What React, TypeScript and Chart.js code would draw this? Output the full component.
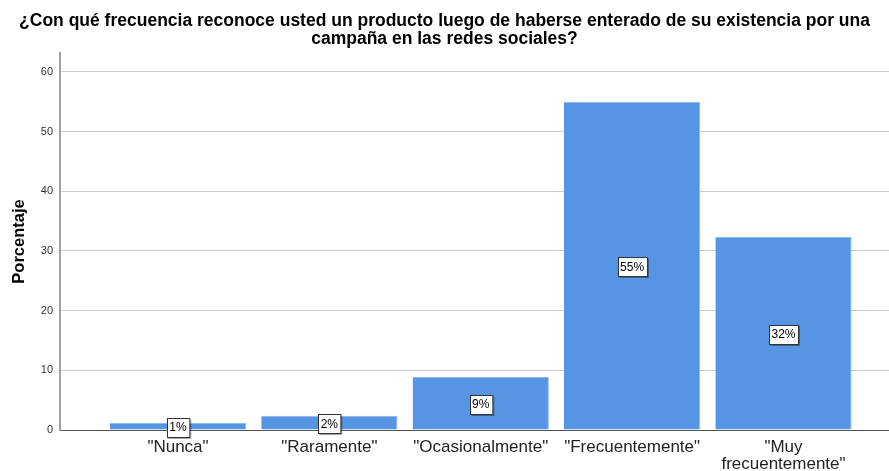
import React, { useEffect, useRef } from "react";
import { Chart, registerables } from "chart.js";

Chart.register(...registerables);

const titleLines = [
  "¿Con qué frecuencia reconoce usted un producto luego de haberse enterado de su existencia por una",
  "campaña en las redes sociales?",
];
const categories: (string | string[])[] = [
  '"Nunca"',
  '"Raramente"',
  '"Ocasionalmente"',
  '"Frecuentemente"',
  ['"Muy', 'frecuentemente"'],
];
const percentages = [1.2, 2.4, 8.9, 55.0, 32.4];
const yTicks = [0, 10, 20, 30, 40, 50, 60];
const yAxisTitle = "Porcentaje";

const FONT = "'Liberation Sans', Arial, sans-serif";

const labelPlugin = {
  id: "boxLabels",
  afterDatasetsDraw(chart: any) {
    const ctx = chart.ctx;
    const meta = chart.getDatasetMeta(0);
    const yScale = chart.scales.y;
    ctx.save();
    ctx.font = `12px ${FONT}`;
    ctx.textAlign = "center";
    ctx.textBaseline = "middle";
    meta.data.forEach((bar: any, i: number) => {
      const v = percentages[i];
      const text = `${Math.round(v)}%`;
      const cx = bar.x;
      const cy = yScale.getPixelForValue(v / 2) + 1;
      const w = ctx.measureText(text).width + 5;
      const h = 19;
      const x0 = Math.round(cx - w / 2) + 0.5;
      const y0 = Math.round(cy - h / 2) + 0.5;
      ctx.fillStyle = "#ffffff";
      ctx.fillRect(x0, y0, w, h);
      ctx.strokeStyle = "#333333";
      ctx.lineWidth = 1;
      ctx.strokeRect(x0, y0, w, h);
      ctx.strokeStyle = "rgba(0,0,0,0.35)";
      ctx.beginPath();
      ctx.moveTo(x0 + w + 1, y0 + 1);
      ctx.lineTo(x0 + w + 1, y0 + h + 1);
      ctx.lineTo(x0 + 1, y0 + h + 1);
      ctx.stroke();
      ctx.fillStyle = "#000000";
      ctx.fillText(text, cx, cy + 0.5);
    });
    ctx.restore();
  },
};

export default function App() {
  const ref = useRef<HTMLCanvasElement | null>(null);

  useEffect(() => {
    if (!ref.current) return;
    const chart = new Chart(ref.current, {
      type: "bar",
      data: {
        datasets: [
          {
            data: percentages.map((v, i) => ({ x: i, y: v })),
            backgroundColor: "#5595E3",
            borderColor: "#8DB6EC",
            borderWidth: { top: 1, left: 0, right: 1, bottom: 0 },
            borderSkipped: "bottom",
            barPercentage: 0.9,
            categoryPercentage: 1,
          },
        ],
      },
      options: {
        animation: false,
        responsive: false,
        maintainAspectRatio: false,
        layout: { padding: 0 },
        plugins: {
          legend: { display: false },
          tooltip: { enabled: false },
          title: {
            display: true,
            text: titleLines,
            color: "#000000",
            font: { family: FONT, size: 17.5, weight: "bold", lineHeight: "18px" },
            padding: { top: 12, bottom: 5 },
          },
        },
        scales: {
          x: {
            type: "linear",
            offset: false,
            min: -0.7795,
            max: 4.697,
            afterBuildTicks: (axis: any) => {
              axis.ticks = categories.map((_, i) => ({ value: i }));
            },
            afterFit: (axis: any) => {
              axis.height = 41;
            },
            ticks: {
              autoSkip: false,
              maxRotation: 0,
              padding: 9,
              color: "#222222",
              font: { family: FONT, size: 17, lineHeight: "17px" },
              callback: (_v: any, i: number) => categories[i],
            },
            grid: { display: false, drawTicks: false },
            border: { display: true, color: "#555555", width: 1 },
          },
          y: {
            min: 0,
            max: 63.18,
            afterBuildTicks: (axis: any) => {
              axis.ticks = yTicks.map((v) => ({ value: v }));
            },
            afterFit: (axis: any) => {
              axis.width = 60;
            },
            ticks: {
              padding: 7,
              color: "#333333",
              font: { family: FONT, size: 11 },
            },
            grid: { color: "#CCCCCC", lineWidth: 1, drawTicks: false },
            border: { display: true, color: "#A0A0A0", width: 2 },
            title: {
              display: true,
              text: yAxisTitle,
              color: "#000000",
              font: { family: FONT, size: 16.5, weight: "bold", lineHeight: 1.2 },
              padding: { top: 9.5, bottom: 0 },
            },
          },
        },
      },
      plugins: [labelPlugin],
    });
    return () => chart.destroy();
  }, []);

  return (
    <div style={{ position: "fixed", left: 0, top: 0, width: 889, height: 471, background: "#fff" }}>
      <canvas ref={ref} width={889} height={471} style={{ width: 889, height: 471 }} />
    </div>
  );
}
